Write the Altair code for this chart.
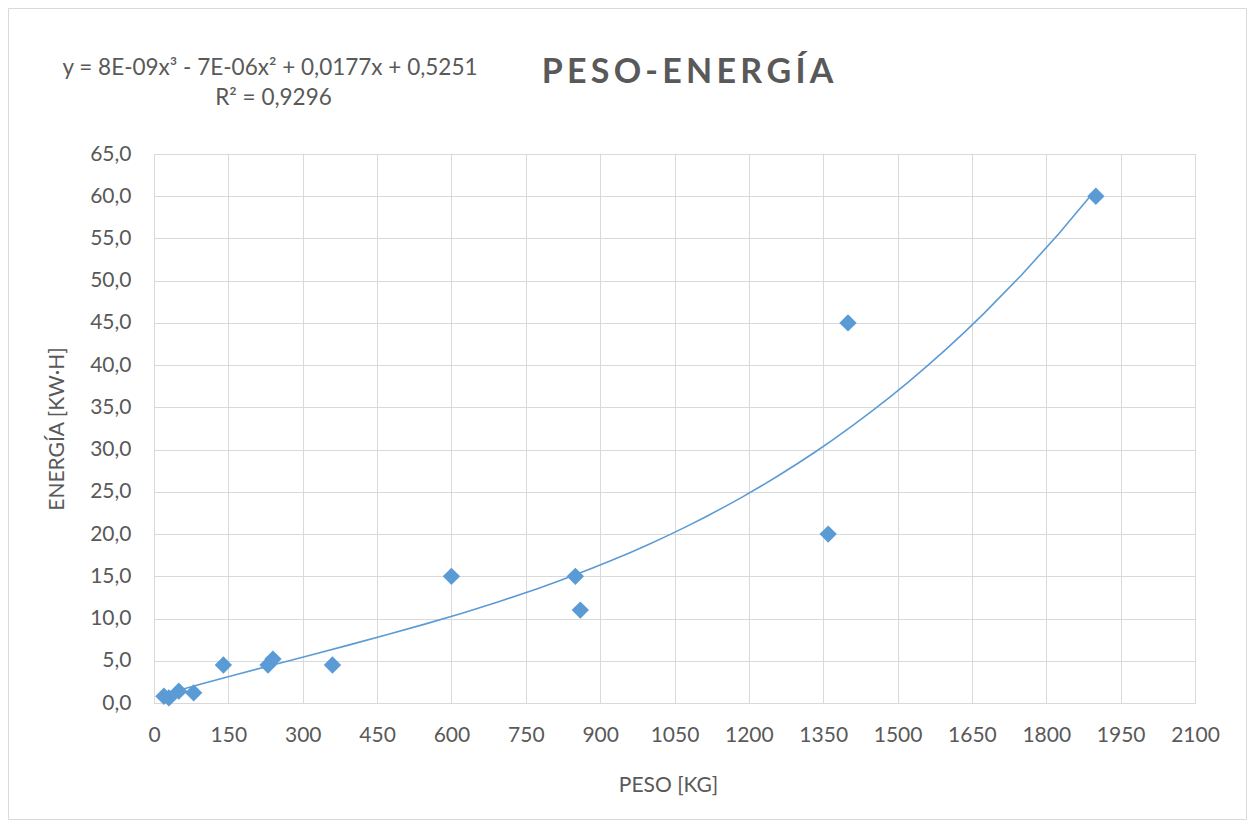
import altair as alt
import pandas as pd

# Data
peso = [20, 30, 50, 80, 140, 230, 240, 360, 600, 850, 860, 1360, 1400, 1900]
energia = [0.8, 0.6, 1.4, 1.2, 4.5, 4.5, 5.2, 4.5, 15.0, 15.0, 11.0, 20.0, 45.0, 60.0]

x_ticks = list(range(0, 2101, 150))
y_ticks = [0, 5, 10, 15, 20, 25, 30, 35, 40, 45, 50, 55, 60, 65]

title_text = "\u2009".join("PESO-ENERGÍA")
eq_text = "y = 8E-09x³ - 7E-06x² + 0,0177x + 0,5251"
r2_text = "R² = 0,9296"
x_title = "PESO [KG]"
y_title = "ENERGÍA [KW·H]"

df = pd.DataFrame({"peso": peso, "energia": energia})

FONT = "Lato"
GREY = "#595959"
GRID = "#d9d9d9"
BLUE = "#5B9BD5"

W, H = 1041, 549

x_enc = alt.X(
    "peso:Q",
    scale=alt.Scale(domain=[0, 2100], nice=False, zero=True),
    axis=alt.Axis(
        values=x_ticks, format="d", grid=True, gridColor=GRID, domainColor=GRID,
        ticks=False, labelFlush=False, labelOverlap=False,
        labelFontSize=21, labelColor=GREY, labelFont=FONT, labelPadding=21,
        title=x_title, titleFont=FONT, titleFontSize=21, titleColor=GREY,
        titleFontWeight="normal", titleX=514, titleY=82, titleBaseline="middle",
    ),
)
y_enc = alt.Y(
    "energia:Q",
    scale=alt.Scale(domain=[0, 65], nice=False),
    axis=alt.Axis(
        values=y_ticks, grid=True, gridColor=GRID, domain=False, ticks=False,
        labelFlush=False, labelOverlap=False,
        labelExpr="replace(format(datum.value, '.1f'), '.', ',')",
        labelFontSize=21, labelColor=GREY, labelFont=FONT, labelPadding=23,
        title=y_title, titleFont=FONT, titleFontSize=21, titleColor=GREY,
        titleFontWeight="normal", titleX=-97, titleY=H / 2, titleAngle=-90,
        titleBaseline="middle", titleAlign="center",
    ),
)

base = alt.Chart(df)

trend = base.transform_regression(
    "peso", "energia", method="poly", order=3
).mark_line(color=BLUE, strokeWidth=1.6).encode(x=x_enc, y=y_enc)

points = base.mark_point(
    shape="diamond", filled=True, size=300, color=BLUE, opacity=1
).encode(x=x_enc, y=y_enc)

title_mark = alt.Chart(pd.DataFrame({"txt": [title_text]})).mark_text(
    font=FONT, fontSize=34, fontWeight="bold", color=GREY, align="center",
    baseline="alphabetic",
).encode(text="txt:N", x=alt.value(533.5), y=alt.value(-71))

eq_mark = alt.Chart(pd.DataFrame({"txt": [eq_text]})).mark_text(
    font=FONT, fontSize=22.5, color=GREY, align="center", baseline="alphabetic",
).encode(text="txt:N", x=alt.value(116), y=alt.value(-79))

r2_mark = alt.Chart(pd.DataFrame({"txt": [r2_text]})).mark_text(
    font=FONT, fontSize=22.5, color=GREY, align="center", baseline="alphabetic",
).encode(text="txt:N", x=alt.value(119.5), y=alt.value(-49))

frame = alt.Chart(pd.DataFrame({"k": [0]})).mark_rect(
    fillOpacity=0, stroke=GRID, strokeWidth=1
).encode(
    x=alt.value(-145.5), x2=alt.value(W + 51.5),
    y=alt.value(-145.5), y2=alt.value(H + 116.5),
)

chart = alt.layer(frame, trend, points, title_mark, eq_mark, r2_mark).properties(
    width=W, height=H,
    autosize=alt.AutoSizeParams(type="none"),
    padding={"left": 146, "top": 146, "right": 52, "bottom": 117},
).configure_view(stroke=None).configure(background="white")

chart.save("out.html", embed_options={"renderer": "svg", "actions": False})
